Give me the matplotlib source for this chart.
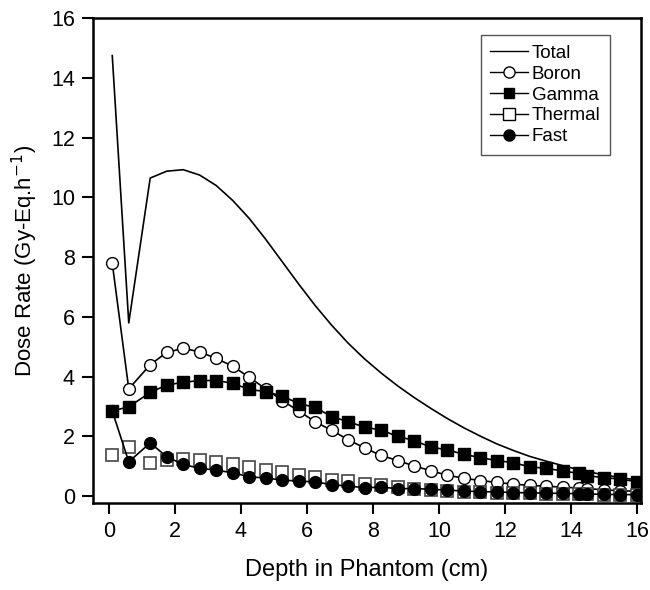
import matplotlib.pyplot as plt
from matplotlib.lines import Line2D

plt.rcParams['font.family'] = ['Liberation Sans', 'DejaVu Sans']

# depth points (cm)
depth = [0.1, 0.6, 1.25, 1.75, 2.25, 2.75, 3.25, 3.75, 4.25, 4.75, 5.25, 5.75,
         6.25, 6.75, 7.25, 7.75, 8.25, 8.75, 9.25, 9.75, 10.25, 10.75, 11.25,
         11.75, 12.25, 12.75, 13.25, 13.75, 14.25, 14.5, 15.0, 15.5, 16.0]

total = [14.75, 5.8, 10.65, 10.88, 10.93, 10.75, 10.4, 9.9, 9.3, 8.6, 7.85, 7.1,
         6.38, 5.72, 5.12, 4.59, 4.12, 3.69, 3.3, 2.94, 2.6, 2.29, 2.01,
         1.75, 1.53, 1.33, 1.17, 1.02, 0.88, 0.82, 0.71, 0.62, 0.54]

boron = [7.8, 3.59, 4.4, 4.81, 4.95, 4.83, 4.61, 4.35, 3.98, 3.59, 3.2, 2.85,
         2.49, 2.2, 1.89, 1.61, 1.36, 1.19, 1.01, 0.85, 0.7, 0.6, 0.52,
         0.46, 0.4, 0.36, 0.33, 0.3, 0.27, 0.25, 0.21, 0.18, 0.16]

gamma = [2.85, 2.99, 3.47, 3.72, 3.81, 3.87, 3.87, 3.78, 3.57, 3.5, 3.35, 3.1,
         2.97, 2.66, 2.49, 2.31, 2.21, 2.0, 1.86, 1.64, 1.55, 1.4, 1.29,
         1.19, 1.12, 0.98, 0.93, 0.84, 0.76, 0.68, 0.62, 0.57, 0.48]

thermal = [1.38, 1.66, 1.1, 1.21, 1.23, 1.21, 1.15, 1.08, 0.98, 0.88, 0.8, 0.72,
           0.65, 0.55, 0.5, 0.42, 0.36, 0.31, 0.25, 0.21, 0.17, 0.15, 0.13,
           0.11, 0.1, 0.09, 0.08, 0.07, 0.06, 0.06, 0.05, 0.05, 0.04]

fast = [2.85, 1.15, 1.78, 1.32, 1.06, 0.93, 0.87, 0.78, 0.65, 0.6, 0.54, 0.5,
        0.48, 0.38, 0.34, 0.28, 0.3, 0.25, 0.25, 0.23, 0.2, 0.17, 0.15,
        0.14, 0.12, 0.11, 0.1, 0.09, 0.08, 0.07, 0.06, 0.05, 0.05]

fig = plt.figure(figsize=(6.5, 5.9), dpi=100)
ax = fig.add_axes([0.143, 0.147, 0.843, 0.822])

ax.plot(depth, total, color='black', lw=1.2)
ax.plot(depth, boron, color='black', lw=1.2, marker='o', ms=8.5,
        mfc='white', mec='black', mew=1.0)
ax.plot(depth, gamma, color='black', lw=1.2, marker='s', ms=8,
        mfc='black', mec='black')
ax.plot(depth, thermal, ls='none', marker='s', ms=8.5,
        mfc='white', mec='#444444', mew=1.2)
ax.plot(depth, fast, color='black', lw=1.2, marker='o', ms=8.5,
        mfc='black', mec='black')

handles = [
    Line2D([], [], color='black', lw=1.0),
    Line2D([], [], color='black', lw=1.0, marker='o', ms=8, mfc='white', mec='black'),
    Line2D([], [], color='black', lw=1.0, marker='s', ms=7, mfc='black'),
    Line2D([], [], color='black', lw=1.0, marker='s', ms=8, mfc='white', mec='black'),
    Line2D([], [], color='black', lw=1.0, marker='o', ms=8, mfc='black'),
]
leg = ax.legend(handles, ['Total', 'Boron', 'Gamma', 'Thermal', 'Fast'],
                loc='upper right', bbox_to_anchor=(0.943, 0.965),
                fontsize=13.5, fancybox=False, edgecolor='#555555',
                handlelength=2.0, handletextpad=0.2, labelspacing=0.2,
                borderpad=0.5, borderaxespad=0.0, framealpha=1)
leg.get_frame().set_linewidth(1.0)

ax.set_xlim(-0.485, 16.12)
ax.set_ylim(-0.24, 16)
ax.set_xticks(range(0, 17, 2))
ax.set_yticks(range(0, 17, 2))
ax.tick_params(direction='out', length=8, width=1.5, labelsize=15.5, pad=5)
for s in ax.spines.values():
    s.set_linewidth(1.8)

ax.set_xlabel('Depth in Phantom (cm)', fontsize=17, labelpad=12)
ax.set_ylabel('Dose Rate (Gy-Eq.h$^{-1}$)', fontsize=16, labelpad=8)

fig.savefig('out.png', dpi=100)
